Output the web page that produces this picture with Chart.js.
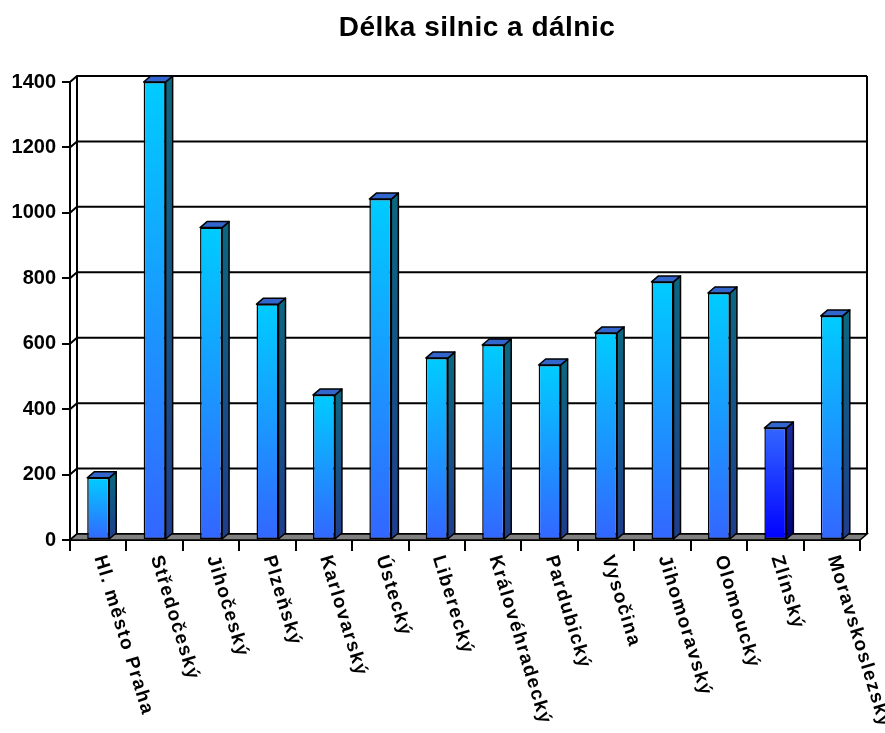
<!DOCTYPE html>
<html lang="cs">

<head>
  <meta charset="UTF-8" />
  <title>Délka silnic a dálnic</title>
  <script src="https://cdn.jsdelivr.net/npm/chart.js"></script>
  <style>
    html, body { margin: 0; padding: 0; background: #fff; }
  </style>
</head>

<body>
  <canvas id="barChart" width="885" height="733"></canvas>
</body>

</html>

<script>
  // data
  const titulek = 'Délka silnic a dálnic'
  const kraje = ['Hl. město Praha', 'Středočeský', 'Jihočeský', 'Plzeňský', 'Karlovarský', 'Ústecký',
    'Liberecký', 'Královéhradecký', 'Pardubický', 'Vysočina', 'Jihomoravský', 'Olomoucký', 'Zlínský',
    'Moravskoslezský']
  const delka = [190, 1400, 955, 721, 443, 1042, 556, 596, 535, 633, 789, 755, 342, 685]
  const osaY = { min: 0, max: 1400, krok: 200 }

  // styl
  const font = '"Liberation Sans", Arial, sans-serif'
  const hloubka = { dx: 7, dy: -6 }
  const zvyraznit = 'Zlínský'

  function barvaPredni(ctx) {
    const chart = ctx.chart
    if (!chart.chartArea) return '#1aa0ff'
    const y = chart.scales.y
    const top = y.getPixelForValue(ctx.raw)
    const bottom = y.getPixelForValue(0)
    const g = chart.ctx.createLinearGradient(0, top, 0, bottom)
    if (kraje[ctx.dataIndex] === zvyraznit) {
      g.addColorStop(0, '#3366ff')
      g.addColorStop(1, '#0000ff')
    } else {
      g.addColorStop(0, '#00ccff')
      g.addColorStop(1, '#3366ff')
    }
    return g
  }

  // zadni stena, mrizka a podlaha
  const stenaPlugin = {
    id: 'stena',
    beforeDatasetsDraw(chart) {
      const c = chart.ctx
      const a = chart.chartArea
      const y = chart.scales.y
      const dx = hloubka.dx, dy = hloubka.dy
      c.save()
      c.strokeStyle = '#000'
      c.lineWidth = 2
      y.ticks.forEach(t => {
        const py = y.getPixelForValue(t.value)
        c.beginPath()
        c.moveTo(a.left, py)
        c.lineTo(a.left + dx, py + dy)
        c.lineTo(a.right + dx, py + dy)
        c.stroke()
      })
      // svisle hrany
      c.beginPath()
      c.moveTo(a.left + dx, a.top + dy)
      c.lineTo(a.left + dx, a.bottom + dy)
      c.moveTo(a.right + dx, a.top + dy)
      c.lineTo(a.right + dx, a.bottom + dy)
      c.stroke()
      // podlaha
      c.beginPath()
      c.moveTo(a.left, a.bottom)
      c.lineTo(a.left + dx, a.bottom + dy)
      c.lineTo(a.right + dx, a.bottom + dy)
      c.lineTo(a.right, a.bottom)
      c.closePath()
      c.fillStyle = '#808080'
      c.fill()
      c.lineWidth = 1.5
      c.stroke()
      c.restore()
    }
  }

  // bocni a horni stena sloupcu
  const sloupce3d = {
    id: 'sloupce3d',
    afterDatasetsDraw(chart) {
      const c = chart.ctx
      const dx = hloubka.dx, dy = hloubka.dy
      const meta = chart.getDatasetMeta(0)
      c.save()
      c.strokeStyle = '#000'
      c.lineWidth = 1.5
      c.lineJoin = 'round'
      meta.data.forEach((bar, i) => {
        const p = bar.getProps(['x', 'y', 'base', 'width'], true)
        const l = p.x - p.width / 2
        const r = p.x + p.width / 2
        const specialni = kraje[i] === zvyraznit

        const gs = c.createLinearGradient(0, p.y, 0, p.base)
        gs.addColorStop(0, specialni ? '#1a2a99' : '#0b6680')
        gs.addColorStop(1, specialni ? '#000080' : '#1f3d8c')
        c.beginPath()
        c.moveTo(r, p.y)
        c.lineTo(r + dx, p.y + dy)
        c.lineTo(r + dx, p.base + dy)
        c.lineTo(r, p.base)
        c.closePath()
        c.fillStyle = gs
        c.fill()
        c.stroke()

        c.beginPath()
        c.moveTo(l, p.y)
        c.lineTo(l + dx, p.y + dy)
        c.lineTo(r + dx, p.y + dy)
        c.lineTo(r, p.y)
        c.closePath()
        c.fillStyle = '#3366cc'
        c.fill()
        c.stroke()
      })
      c.restore()
    },
    afterDraw(chart) {
      const c = chart.ctx
      const a = chart.chartArea
      const x = chart.scales.x
      c.save()
      c.fillStyle = '#000'
      // titulek
      c.font = 'bold 28px ' + font
      c.letterSpacing = '0.5px'
      c.textAlign = 'center'
      c.textBaseline = 'middle'
      c.fillText(titulek, 477, 28)
      // popisky osy x, otocene dolu doprava
      c.font = 'bold 19px ' + font
      c.letterSpacing = '1.5px'
      c.textAlign = 'left'
      kraje.forEach((k, i) => {
        c.save()
        c.translate(x.getPixelForValue(i) + 1, a.bottom + 16)
        c.rotate(73 * Math.PI / 180)
        c.fillText(k, 0, 0)
        c.restore()
      })
      c.restore()
    }
  }

  new Chart(document.getElementById('barChart'), {
    type: 'bar',
    data: {
      labels: kraje,
      datasets: [{
        label: titulek,
        data: delka,
        backgroundColor: barvaPredni,
        borderColor: '#000',
        borderWidth: 1.5,
        borderSkipped: false,
        barPercentage: 0.39,
        categoryPercentage: 1
      }]
    },
    plugins: [stenaPlugin, sloupce3d],
    options: {
      responsive: false,
      animation: false,
      layout: { padding: { top: 82, right: 25, left: 0, bottom: 0 } },
      plugins: {
        legend: { display: false },
        title: { display: false },
        tooltip: { enabled: false }
      },
      scales: {
        x: {
          afterFit: s => { s.height = 193 },
          grid: { offset: true, drawOnChartArea: false, tickLength: 11, color: '#000', lineWidth: 2 },
          border: { color: '#000', width: 2 },
          ticks: { display: false }
        },
        y: {
          min: osaY.min,
          max: osaY.max,
          afterFit: s => { s.width = 70 },
          grid: { drawOnChartArea: false, tickLength: 8, color: '#000', lineWidth: 2 },
          border: { color: '#000', width: 2 },
          ticks: {
            stepSize: osaY.krok,
            color: '#000',
            padding: 6,
            font: { family: font, size: 20, weight: 'bold' },
            callback: v => String(v)
          }
        }
      }
    }
  })
</script>
